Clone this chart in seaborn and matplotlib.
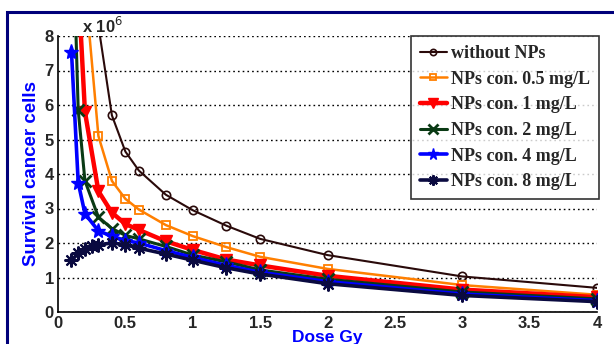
import numpy as np
import matplotlib
matplotlib.use("Agg")
import matplotlib.pyplot as plt
from matplotlib.patches import Rectangle
import seaborn as sns

# dose points (Gy) and survival cancer cells (x 10^6)
dose = [0.1, 0.15, 0.2, 0.3, 0.4, 0.5, 0.6, 0.8, 1.0, 1.25, 1.5, 2.0, 3.0, 4.0]
dose_8 = [0.1, 0.15, 0.2, 0.25, 0.3, 0.4, 0.5, 0.6, 0.8, 1.0, 1.25, 1.5, 2.0, 3.0, 4.0]

without_nps = [24.0, 16.0, 12.0, 8.3, 5.7, 4.65, 4.1, 3.4, 2.95, 2.5, 2.12, 1.65, 1.03, 0.7]
nps_05 = [20.0, 14.0, 9.5, 5.1, 3.8, 3.28, 2.97, 2.52, 2.2, 1.88, 1.6, 1.25, 0.78, 0.5]
nps_1 = [15.0, 9.5, 5.8, 3.5, 2.88, 2.55, 2.38, 2.05, 1.8, 1.52, 1.35, 1.05, 0.65, 0.43]
nps_2 = [12.5, 5.85, 3.8, 2.75, 2.42, 2.22, 2.12, 1.9, 1.65, 1.45, 1.22, 0.95, 0.58, 0.38]
nps_4 = [7.55, 3.75, 2.85, 2.35, 2.2, 2.07, 2.0, 1.78, 1.58, 1.35, 1.15, 0.88, 0.52, 0.33]
nps_8 = [1.5, 1.7, 1.82, 1.9, 1.95, 2.0, 1.95, 1.85, 1.68, 1.5, 1.28, 1.1, 0.82, 0.48, 0.3]

labels = ["without NPs", "NPs con. 0.5 mg/L", "NPs con. 1 mg/L",
          "NPs con. 2 mg/L", "NPs con. 4 mg/L", "NPs con. 8 mg/L"]
x_ticks = [0, 0.5, 1, 1.5, 2, 2.5, 3, 3.5, 4]
y_ticks = [0, 1, 2, 3, 4, 5, 6, 7, 8]

sns.set_style("white")
plt.rcParams['font.family'] = ['Liberation Sans', 'DejaVu Sans']

fig = plt.figure(figsize=(6.14, 3.44), dpi=100)
ax = fig.add_axes([58 / 614, 32 / 344, 539 / 614, 276 / 344])

series = [
    (dose, without_nps, dict(color="#2a0a0a", marker="o", markerfacecolor="none", markersize=6,
                             markeredgewidth=1.2, linewidth=1.5)),
    (dose, nps_05, dict(color="#ff7f00", marker="s", markerfacecolor="none", markersize=6,
                        markeredgewidth=1.3, linewidth=1.8)),
    (dose, nps_1, dict(color="#ff0000", marker="v", markerfacecolor="#ff0000", markersize=9,
                       markeredgewidth=1, linewidth=3.2)),
    (dose, nps_2, dict(color="#0a3a14", marker="x", markersize=9, markeredgewidth=2, linewidth=2.2)),
    (dose, nps_4, dict(color="#0000ff", marker="*", markerfacecolor="#0000ff", markersize=11,
                       markeredgewidth=1, linewidth=2.6)),
    (dose_8, nps_8, dict(color="#0a0a40", marker=(8, 2, 0), markersize=10, markeredgewidth=1.5,
                         linewidth=2.6)),
]
for (xs, ys, style), lab in zip(series, labels):
    sns.lineplot(x=xs, y=ys, ax=ax, label=lab, linestyle="-", dashes=False,
                 markeredgecolor=style["color"], **style)

ax.set_xlim(0, 4)
ax.set_ylim(0, 8)
ax.set_xticks(x_ticks)
ax.set_xticklabels([f"{t:g}" for t in x_ticks])
ax.set_yticks(y_ticks)
ax.tick_params(direction="in", length=4, width=1, labelsize=12, pad=3)
for t in ax.get_xticklabels() + ax.get_yticklabels():
    t.set_fontweight("bold")

ax.yaxis.grid(True, linestyle=(0, (1.2, 2.2)), color="black", lw=1)
ax.xaxis.grid(False)
ax.spines["top"].set_visible(False)
ax.spines["right"].set_visible(False)
ax.spines["left"].set_color("black")
ax.spines["bottom"].set_color("black")
ax.spines["left"].set_linewidth(1.2)
ax.spines["bottom"].set_linewidth(1.2)

ax.set_xlabel("Dose Gy", color="#0000ff", fontweight="bold", fontsize=12.5, labelpad=-1)
ax.set_ylabel("Survival cancer cells", color="#0000ff", fontweight="bold", fontsize=13.5, labelpad=3)
ax.text(0.045, 1.0, "x 10$^{6}$", transform=ax.transAxes, fontsize=12,
        fontweight="bold", ha="left", va="bottom")

leg = ax.legend(loc="upper right", bbox_to_anchor=(1.003, 1.0), borderaxespad=0,
                frameon=True, fancybox=False, handlelength=1.5, handletextpad=0.2,
                labelspacing=0.48, borderpad=0.5,
                prop=dict(family="Liberation Serif", weight="bold", size=13))
leg.get_frame().set_edgecolor("black")
leg.get_frame().set_linewidth(1.2)
for h in leg.legend_handles:
    h.set_markersize(h.get_markersize() * 0.75)

fig.patches.append(Rectangle((7 / 614, -0.1), 1.2, 1 - 12 / 344 + 0.1,
                             transform=fig.transFigure, fill=False,
                             edgecolor="#00007a", lw=2.2))

fig.savefig("out.png", dpi=100)
